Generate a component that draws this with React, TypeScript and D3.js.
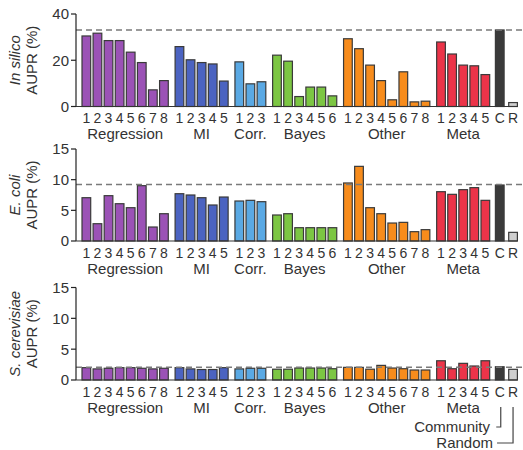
import React from "react";
import * as d3 from "d3";

const groupNames = ["Regression", "MI", "Corr.", "Bayes", "Other", "Meta"];
const groupCounts = [8, 5, 3, 6, 8, 5];
const groupColors = ["#9b52b6", "#4b63c1", "#5aa9e4", "#7cc643", "#f78c1c", "#ec3449"];
const extraLabels = ["C", "R"];
const extraColors = ["#3a3a3a", "#cfcfcf"];

const inSilico = [
  30.5, 31.7, 28.5, 28.5, 23.5, 19.0, 7.2, 11.2,
  25.9, 20.2, 19.0, 18.4, 11.0,
  19.3, 9.8, 10.7,
  22.2, 19.6, 4.3, 8.4, 8.4, 4.6,
  29.3, 25.0, 17.9, 11.2, 2.9, 15.0, 2.0, 2.3,
  27.9, 22.7, 17.9, 17.6, 13.8,
  33.1, 1.7,
];
const eColi = [
  7.06, 2.82, 7.39, 6.08, 5.43, 9.02, 2.28, 4.45,
  7.71, 7.5, 7.06, 5.87, 7.17,
  6.52, 6.63, 6.41,
  4.24, 4.45, 2.17, 2.17, 2.17, 2.17,
  9.46, 12.17, 5.43, 4.45, 2.93, 3.04, 1.52, 1.85,
  8.04, 7.61, 8.37, 8.7, 6.63,
  9.13, 1.41,
];
const sCerevisiae = [
  2.0, 1.8, 1.9, 2.0, 2.0, 1.9, 1.8, 1.9,
  2.0, 1.8, 1.7, 1.7, 2.0,
  1.8, 1.9, 1.9,
  1.75, 1.75, 1.94, 1.94, 1.94, 1.83,
  2.05, 2.05, 1.75, 2.37, 1.94, 1.83, 1.62, 1.62,
  3.12, 1.83, 2.7, 2.27, 3.12,
  2.15, 1.73,
];
const dashedValues = [33.1, 9.2, 2.05];
const yMaxes = [40, 15, 15];
const yTicksList = [[0, 20, 40], [0, 5, 10, 15], [0, 5, 10, 15]];
const organisms = ["In silico", "E. coli", "S. cerevisiae"];

const panelTops = [14, 149, 287.5];
const panelBottoms = [106.5, 241, 380];

const FONT = "'Liberation Sans', Arial, Helvetica, sans-serif";
const TEXT = "#333";

type Bar = { slot: number; label: string; color: string; group: number };

function buildBars(): Bar[] {
  const bars: Bar[] = [];
  let slot = 0;
  groupCounts.forEach((n, g) => {
    if (g > 0) slot += 0.4;
    for (let i = 0; i < n; i++) {
      bars.push({ slot, label: String(i + 1), color: groupColors[g], group: g });
      slot += 1;
    }
  });
  slot += 0.3;
  bars.push({ slot, label: extraLabels[0], color: extraColors[0], group: 6 });
  slot += 1.2;
  bars.push({ slot, label: extraLabels[1], color: extraColors[1], group: 7 });
  return bars;
}

export default function App() {
  const bars = buildBars();
  const lastSlot = bars[bars.length - 1].slot;
  const x = d3.scaleLinear().domain([0, lastSlot]).range([82, 508.7]);
  const bw = 8.7;
  const axisX = 76;
  const datasets = [inSilico, eColi, sCerevisiae];

  return (
    <svg width={523} height={450} style={{ position: "absolute", left: 0, top: 0 }} fontFamily={FONT}>
      {datasets.map((data, p) => {
        const y = d3.scaleLinear().domain([0, yMaxes[p]]).range([panelBottoms[p], panelTops[p]]);
        const base = y(0);
        const midY = (panelTops[p] + panelBottoms[p]) / 2;
        return (
          <g key={p}>
            <text
              transform={`translate(20,${midY}) rotate(-90)`}
              textAnchor="middle"
              fontSize={15}
              fontStyle="italic"
              fill={TEXT}
            >
              {organisms[p]}
            </text>
            <text
              transform={`translate(37,${midY}) rotate(-90)`}
              textAnchor="middle"
              fontSize={15}
              fill={TEXT}
            >
              AUPR (%)
            </text>
            {bars.map((b, i) => (
              <rect
                key={i}
                x={x(b.slot)}
                y={y(data[i])}
                width={bw}
                height={base - y(data[i])}
                fill={b.color}
                stroke="#3a3a3a"
                strokeWidth={1.2}
              />
            ))}
            <line
              x1={axisX}
              x2={523}
              y1={y(dashedValues[p])}
              y2={y(dashedValues[p])}
              stroke="#7a7a7a"
              strokeWidth={1.5}
              strokeDasharray="6,4"
            />
            <line x1={axisX} x2={axisX} y1={y(yMaxes[p])} y2={base} stroke="#222" strokeWidth={1.2} />
            <line x1={axisX} x2={517.5} y1={base} y2={base} stroke="#333" strokeWidth={1.2} />
            {yTicksList[p].map((t) => (
              <g key={t}>
                <line x1={axisX - 5} x2={axisX} y1={y(t)} y2={y(t)} stroke="#222" strokeWidth={1.2} />
                <text x={axisX - 7} y={y(t)} dy="0.36em" textAnchor="end" fontSize={15} fill={TEXT}>
                  {t}
                </text>
              </g>
            ))}
            {bars.map((b, i) => (
              <text
                key={"l" + i}
                x={x(b.slot) + bw / 2}
                y={base + 16.5}
                textAnchor="middle"
                fontSize={14}
                fill={TEXT}
              >
                {b.label}
              </text>
            ))}
            {groupNames.map((name, g) => {
              const gb = bars.filter((b) => b.group === g);
              const cx = (x(gb[0].slot) + x(gb[gb.length - 1].slot) + bw) / 2;
              return (
                <text key={name} x={cx} y={base + 32.5} textAnchor="middle" fontSize={15} fill={TEXT}>
                  {name}
                </text>
              );
            })}
          </g>
        );
      })}
      {(() => {
        const cBar = bars[bars.length - 2];
        const rBar = bars[bars.length - 1];
        const cx = x(cBar.slot) + bw / 2 + 1;
        const rx = x(rBar.slot) + bw / 2;
        return (
          <g stroke="#444" strokeWidth={1.2} fill="none">
            <polyline points={`${cx},407 ${cx},427 ${cx - 4.5},427`} />
            <polyline points={`${rx},407 ${rx},443 ${rx - 16},443`} />
            <text x={490} y={427} dy="0.36em" textAnchor="end" fontSize={15} fill={TEXT} stroke="none">
              Community
            </text>
            <text x={493} y={443} dy="0.36em" textAnchor="end" fontSize={15} fill={TEXT} stroke="none">
              Random
            </text>
          </g>
        );
      })()}
    </svg>
  );
}
